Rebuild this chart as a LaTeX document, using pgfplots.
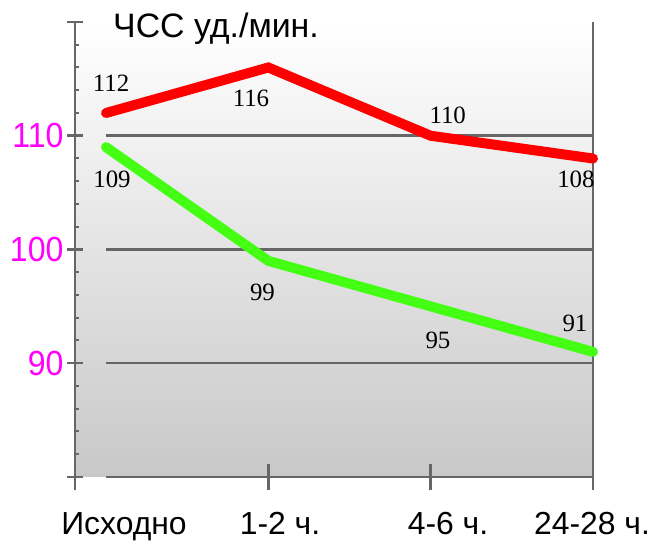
\documentclass[border=0pt]{standalone}
\usepackage{fontspec}
\setmainfont{Liberation Sans}
\newfontfamily\seriffont{Liberation Serif}
\usepackage{graphicx}
\usepackage{pgfplots}
\pgfplotsset{compat=1.18}
\definecolor{axgray}{RGB}{102,102,102}
\definecolor{lred}{RGB}{255,0,0}
\definecolor{lgreen}{RGB}{68,255,20}
\definecolor{mag}{RGB}{255,0,255}
\definecolor{bggray}{RGB}{200,200,200}
\begin{document}
\begin{tikzpicture}
\useasboundingbox (0,0) rectangle (657bp,543bp);
\begin{axis}[
  at={(75bp,66bp)}, anchor=south west,
  scale only axis, width=518bp, height=455bp,
  xmin=-0.191, xmax=3, ymin=80, ymax=120,
  clip=false,
  axis line style={draw=none},
  axis background/.style={top color=white, bottom color=bggray},
  xtick=\empty,
  ytick={80,90,100,110,120},
  yticklabels={,\scalebox{0.92}[1]{90},\scalebox{0.92}[1]{100},\scalebox{0.92}[1]{110},},
  minor ytick={82,84,86,88,92,94,96,98,102,104,106,108,112,114,116,118},
  ytick pos=left,
  tick align=center,
  major tick length=16bp,
  minor tick length=4bp,
  major tick style={axgray, line width=2.5bp},
  minor tick style={axgray, line width=2bp, xshift=2bp},
  yticklabel style={font=\fontsize{35}{35}\selectfont, text=mag},
]
\draw[axgray, line width=2.5bp] (axis cs:0,80) -- (axis cs:3,80);
\draw[axgray, line width=2.5bp] (axis cs:0,90) -- (axis cs:3,90);
\draw[axgray, line width=2.5bp] (axis cs:0,100) -- (axis cs:3,100);
\draw[axgray, line width=2.5bp] (axis cs:0,110) -- (axis cs:3,110);
\draw[axgray, line width=2.7bp] (axis cs:-0.191,78.86) -- (axis cs:-0.191,120);
\draw[axgray, line width=2.7bp] (axis cs:3,78.86) -- (axis cs:3,120);
\draw[axgray, line width=2.5bp] (axis cs:1,78.86) -- (axis cs:1,81.14);
\draw[axgray, line width=2.5bp] (axis cs:2,78.86) -- (axis cs:2,81.14);

\addplot[lred, line width=10bp, line cap=round] coordinates {(0,112) (1,116) (2,110) (3,108)};
\addplot[lgreen, line width=10bp, line cap=round] coordinates {(0,109) (1,99) (2,95) (3,91)};

\begin{scope}[every node/.style={anchor=base, font=\seriffont\fontsize{25}{25}\selectfont, inner sep=0pt}]
\node at (axis cs:0.031,113.85) {112};
\node at (axis cs:0.893,112.53) {116};
\node at (axis cs:2.105,111.12) {110};
\node at (axis cs:2.895,105.49) {108};
\node at (axis cs:0.037,105.41) {109};
\node at (axis cs:0.964,95.56) {99};
\node at (axis cs:2.045,91.34) {95};
\node at (axis cs:2.889,92.75) {91};
\end{scope}

\begin{scope}[every node/.style={anchor=base, font=\fontsize{32}{32}\selectfont, inner sep=0pt}]
\node at (axis cs:0.111,74.95) {Исходно};
\node at (axis cs:1.072,74.95) {1-2 ч.};
\node at (axis cs:2.107,74.95) {4-6 ч.};
\node at (axis cs:2.994,74.95) {24-28 ч.};
\node[anchor=base west, font=\fontsize{34}{34}\selectfont] at (axis cs:0.043,118.68) {ЧСС уд./мин.};
\end{scope}
\end{axis}
\end{tikzpicture}
\end{document}
